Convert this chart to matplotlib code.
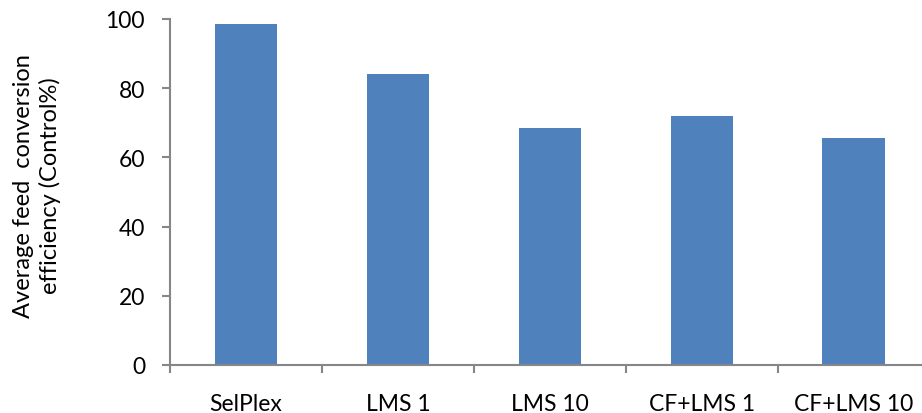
import matplotlib.pyplot as plt

#-----------------------------------------------------------------------------#
#Data.
#-----------------------------------------------------------------------------#
categories=['SelPlex','LMS 1','LMS 10','CF+LMS 1','CF+LMS 10']
values=[98.6,84.1,68.5,71.9,65.6]
yticks=[0,20,40,60,80,100]

plt.rcParams['font.family']=['Lato','DejaVu Sans']
axis_grey='#868686'

fig=plt.figure(figsize=(9.22,4.14),dpi=100)
#axes runs a little past the right edge, as in the reference
ax=fig.add_axes([170/922,1-366/414,5*151.9/922,346/414])

x=list(range(len(categories)))
ax.bar(x,values,width=0.41,color='#4F81BD',zorder=2)

ax.set_xlim(-0.5,len(categories)-0.5)
ax.set_ylim(0,100)
ax.set_yticks(yticks)
ax.set_yticklabels([str(v) for v in yticks])
#category labels in the middle, ticks at the boundaries
ax.set_xticks(x)
ax.set_xticklabels(categories)
ax.set_xticks([i-0.5 for i in range(len(categories)+1)],minor=True)
ax.tick_params(axis='x',which='major',length=0,pad=20,labelsize=16.5)
ax.tick_params(axis='x',which='minor',length=6,width=1.5,color=axis_grey,direction='out')
ax.tick_params(axis='y',length=6,width=1.5,color=axis_grey,direction='out',pad=12,labelsize=16.5)

for s in ['top','right']:
    ax.spines[s].set_visible(False)
for s in ['left','bottom']:
    ax.spines[s].set_color(axis_grey)
    ax.spines[s].set_linewidth(1.5)

fig.text(37/922,1-186/414,'Average feed  conversion\nefficiency (Control%)',
         rotation=90,ha='center',va='center',multialignment='center',
         fontsize=17,linespacing=1.3)

fig.savefig('out.png',dpi=100)
